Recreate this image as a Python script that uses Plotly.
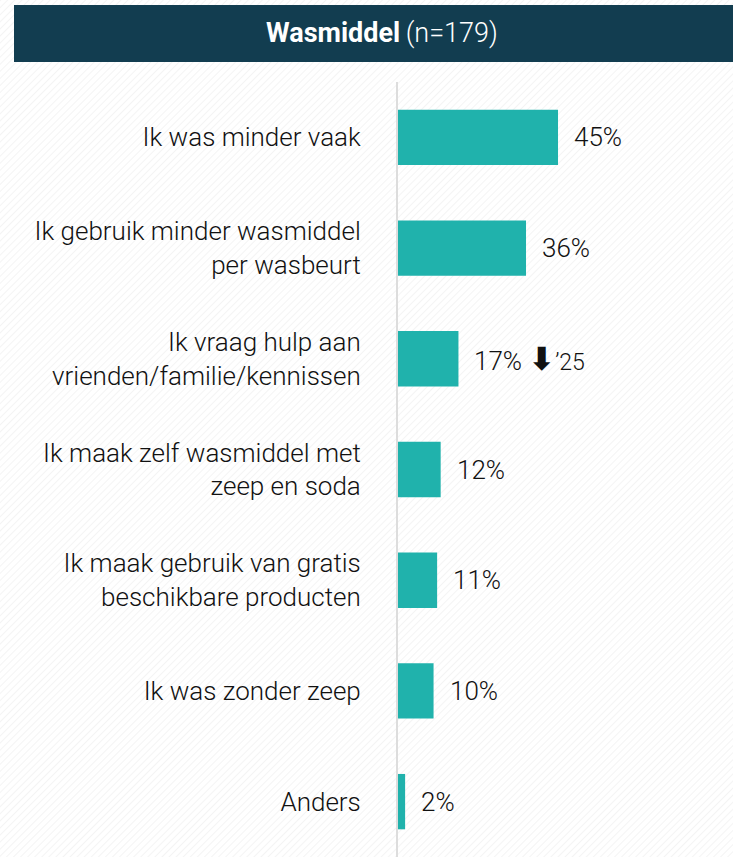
import base64
import plotly.graph_objects as go

categories = [
    "Ik was minder vaak",
    "Ik gebruik minder wasmiddel<br>per wasbeurt",
    "Ik vraag hulp aan<br>vrienden/familie/kennissen",
    "Ik maak zelf wasmiddel met<br>zeep en soda",
    "Ik maak gebruik van gratis<br>beschikbare producten",
    "Ik was zonder zeep",
    "Anders",
]
values = [45, 36, 17, 12, 11, 10, 2]
value_labels = ["45%", "36%", "17%", "12%", "11%", "10%", "2%"]
trend_notes = ["", "", "'25", "", "", "", ""]

title_bold = "Wasmiddel"
title_rest = "(n=179)"

W, H = 733, 857
L, T = 398, 82
PW, PH = W - L, H - T
px_per_pct = 3.556
xmax = PW / px_per_pct

TEAL = "#20b2ac"
NAVY = "#123d50"
FONT = "Roboto"

fig = go.Figure()
fig.add_trace(go.Bar(
    x=values, y=categories, orientation="h",
    marker=dict(color=TEAL, line=dict(width=0)),
    width=0.5, hoverinfo="skip",
))

for cat, v, lab, note in zip(categories, values, value_labels, trend_notes):
    txt = lab
    if note:
        txt = (lab + " <span style='font-family:DejaVu Sans;font-size:32px;font-weight:bold'>\u2B07</span>"
               "<span style='font-size:23px'>\u2019" + note[1:] + "</span>")
    fig.add_annotation(x=v, y=cat, xref="x", yref="y", text=txt, showarrow=False,
                       xanchor="left", yanchor="middle", xshift=14,
                       font=dict(family=FONT, size=26, color="#111111", weight=300))

def px_to_paper_x(px):
    return (px - L) / PW

def px_to_paper_y(py):
    return (H - py) / PH

# faint diagonal hatching background
svg = (f"<svg xmlns='http://www.w3.org/2000/svg' width='{W}' height='{H}'>"
       "<defs><pattern id='p' width='5' height='5' patternUnits='userSpaceOnUse' "
       "patternTransform='rotate(45)'><line x1='0' y1='0' x2='0' y2='5' "
       "stroke='#ececec' stroke-width='1.2'/></pattern></defs>"
       f"<rect width='{W}' height='{H}' fill='white'/>"
       f"<rect width='{W}' height='{H}' fill='url(#p)'/></svg>")
uri = "data:image/svg+xml;base64," + base64.b64encode(svg.encode()).decode()
fig.add_layout_image(source=uri, xref="paper", yref="paper",
                     x=px_to_paper_x(0), y=px_to_paper_y(0),
                     sizex=W / PW, sizey=H / PH, sizing="stretch",
                     xanchor="left", yanchor="top", layer="below")

# Title bar
fig.add_shape(type="rect", xref="paper", yref="paper",
              x0=px_to_paper_x(14), x1=px_to_paper_x(740),
              y0=px_to_paper_y(62), y1=px_to_paper_y(5),
              fillcolor=NAVY, line=dict(width=0), layer="above")
fig.add_annotation(xref="paper", yref="paper",
                   x=px_to_paper_x(382), y=px_to_paper_y(33),
                   text="<b>" + title_bold + "</b>\u2009<span style='font-weight:300'>" + title_rest + "</span>",
                   showarrow=False, xanchor="center", yanchor="middle",
                   font=dict(family=FONT, size=27, color="white"))

fig.update_layout(
    width=W, height=H,
    margin=dict(l=L, r=0, t=T, b=0, pad=0),
    paper_bgcolor="white", plot_bgcolor="rgba(0,0,0,0)",
    showlegend=False, bargap=0.5,
)
fig.update_xaxes(range=[0, xmax], visible=False, fixedrange=True)
fig.update_yaxes(autorange="reversed", showline=True, linecolor="#dddddd", linewidth=2,
                 showgrid=False, ticks="", ticklabelstandoff=30, fixedrange=True,
                 tickfont=dict(family=FONT, size=26, color="#111111", weight=300))

fig.write_html("out.html", config={"displayModeBar": False, "staticPlot": True},
               post_script="document.body.style.margin='0px';")
